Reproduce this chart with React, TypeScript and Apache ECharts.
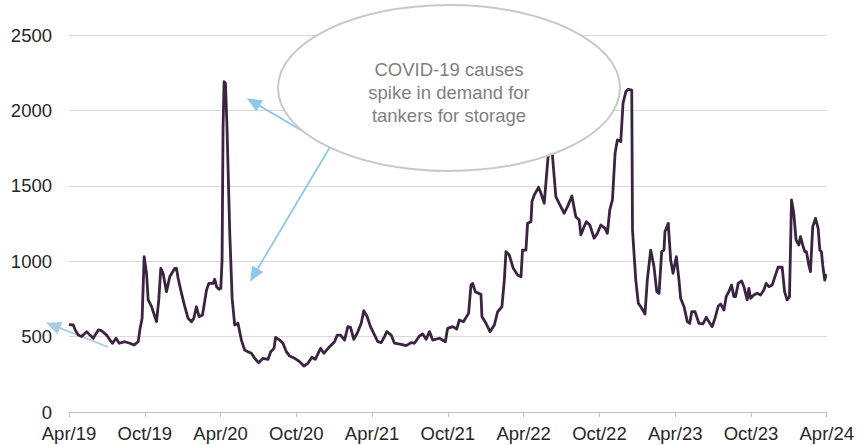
import React, { useEffect, useRef } from "react";
import * as echarts from "echarts";

// months elapsed since April 2019 (x position of each observation)
const monthsSinceApr2019 = [
  0, 0.34, 0.47, 0.74, 1.0, 1.4, 1.66, 1.92, 2.32, 2.58,
  2.98, 3.24, 3.45, 3.72, 3.98, 4.43, 4.82, 5.14, 5.48, 5.61,
  5.79, 5.95, 6.14, 6.27, 6.54, 6.93, 7.11, 7.27, 7.45, 7.72,
  7.98, 8.38, 8.51, 8.64, 8.91, 9.17, 9.43, 9.7, 9.88, 10.09,
  10.3, 10.57, 10.89, 11.07, 11.41, 11.54, 11.68, 11.88, 12.02, 12.12,
  12.2, 12.28, 12.39, 12.51, 12.73, 12.92, 13.12, 13.38, 13.65, 13.91,
  14.17, 14.44, 14.7, 15.02, 15.36, 15.76, 15.97, 16.23, 16.36, 16.68,
  16.94, 17.21, 17.47, 17.87, 18.26, 18.6, 18.92, 19.23, 19.5, 19.92,
  20.18, 20.63, 21.03, 21.24, 21.5, 21.82, 22.08, 22.29, 22.55, 22.82,
  23.14, 23.34, 23.61, 23.87, 24.13, 24.45, 24.72, 24.98, 25.16, 25.51,
  25.77, 26.3, 26.7, 27.09, 27.35, 27.75, 28.01, 28.28, 28.54, 28.8,
  29.33, 29.8, 29.98, 30.38, 30.7, 30.91, 31.23, 31.64, 31.83, 31.96,
  32.17, 32.62, 32.7, 33.02, 33.34, 33.68, 33.94, 34.28, 34.47, 34.6,
  34.86, 35.18, 35.52, 35.79, 35.91, 36.18, 36.31, 36.58, 36.66, 36.84,
  37.18, 37.37, 37.63, 37.89, 38.1, 38.28, 38.55, 38.81, 39.21, 39.47,
  39.82, 40.13, 40.4, 40.53, 40.79, 40.97, 41.24, 41.58, 41.84, 42.11,
  42.45, 42.63, 42.82, 43.03, 43.24, 43.42, 43.69, 43.87, 44.09, 44.27,
  44.56, 44.62, 44.74, 44.88, 45.08, 45.35, 45.61, 45.79, 46.06, 46.32,
  46.54, 46.72, 46.93, 47.11, 47.19, 47.45, 47.64, 47.83, 48.09, 48.3,
  48.43, 48.7, 48.96, 49.15, 49.31, 49.57, 49.88, 50.2, 50.46, 50.67,
  50.93, 51.15, 51.41, 51.6, 51.86, 52.04, 52.25, 52.46, 52.65, 52.78,
  52.99, 53.26, 53.44, 53.7, 53.83, 53.97, 54.23, 54.49, 54.76, 55.02,
  55.2, 55.42, 55.68, 55.94, 56.15, 56.47, 56.66, 56.86, 57.05, 57.21,
  57.39, 57.57, 57.79, 57.92, 58.1, 58.26, 58.39, 58.58, 58.71, 58.89,
  59.11, 59.32, 59.45, 59.58, 59.68, 59.84, 59.94, 60,
];

// tanker rate index values
const rates = [
  580, 577, 548, 510, 500, 533, 510, 489, 544, 539,
  510, 477, 456, 489, 456, 466, 456, 444, 466, 544,
  621, 1030, 920, 743, 698, 599, 743, 953, 920, 798,
  897, 953, 953, 887, 787, 698, 621, 599, 621, 698,
  632, 643, 809, 853, 853, 880, 831, 814, 820, 1008,
  1892, 2190, 2180, 1892, 1185, 750, 577, 588, 477, 411,
  400, 389, 356, 327, 356, 349, 400, 422, 495, 477,
  456, 400, 371, 356, 334, 305, 323, 363, 349, 422,
  389, 433, 466, 510, 510, 477, 566, 562, 482, 522,
  588, 672, 632, 566, 522, 466, 460, 499, 533, 510,
  456, 449, 440, 460, 456, 504, 517, 482, 533, 477,
  489, 466, 555, 566, 550, 610, 599, 654, 842, 853,
  798, 780, 632, 588, 533, 577, 665, 698, 875, 1063,
  1041, 953, 908, 897, 1074, 1074, 1251, 1262, 1395, 1439,
  1490, 1450, 1384, 1649, 1850, 1700, 1428, 1384, 1318, 1362,
  1432, 1295, 1273, 1174, 1229, 1262, 1240, 1152, 1185, 1240,
  1218, 1185, 1340, 1406, 1716, 1804, 1793, 2047, 2124, 2140,
  2135, 1207, 1052, 875, 721, 688, 650, 875, 1074, 964,
  798, 787, 1063, 1074, 1196, 1251, 1008, 920, 1030, 875,
  754, 698, 599, 588, 665, 665, 588, 584, 628, 599,
  566, 621, 703, 716, 676, 765, 798, 842, 765, 765,
  853, 869, 831, 743, 820, 754, 776, 787, 776, 809,
  853, 831, 842, 908, 960, 960, 798, 743, 765, 1406,
  1318, 1141, 1107, 1163, 1107, 1063, 1063, 975, 930, 1229,
  1284, 1218, 1074, 1063, 975, 875, 908, 908,
];

const xTickLabels = [
  "Apr/19", "Oct/19", "Apr/20", "Oct/20", "Apr/21", "Oct/21",
  "Apr/22", "Oct/22", "Apr/23", "Oct/23", "Apr/24",
];

const annotationText = "COVID-19 causes\nspike in demand for\ntankers for storage";

const FONT = '"Liberation Sans", Arial, sans-serif';

function arrow(x1: number, y1: number, x2: number, y2: number, color: string, z: number) {
  const dx = x2 - x1;
  const dy = y2 - y1;
  const len = Math.hypot(dx, dy);
  const ux = dx / len;
  const uy = dy / len;
  const headLen = 15;
  const headW = 6.5;
  const bx = x2 - ux * headLen;
  const by = y2 - uy * headLen;
  const px = -uy;
  const py = ux;
  return [
    {
      type: "line",
      z,
      shape: { x1, y1, x2: bx + ux * 2, y2: by + uy * 2 },
      style: { stroke: color, lineWidth: 1.8 },
    },
    {
      type: "polygon",
      z,
      shape: {
        points: [
          [x2, y2],
          [bx + px * headW, by + py * headW],
          [bx - px * headW, by - py * headW],
        ],
      },
      style: { fill: color },
    },
  ];
}

export default function App() {
  const ref = useRef<HTMLDivElement>(null);

  useEffect(() => {
    document.body.style.margin = "0";
    const chart = echarts.init(ref.current as HTMLDivElement, null, { renderer: "svg" });
    const n = Math.min(monthsSinceApr2019.length, rates.length);
    const data = [];
    for (let i = 0; i < n; i++) data.push([monthsSinceApr2019[i], rates[i]]);

    chart.setOption({
      animation: false,
      grid: { left: 69, right: 29, top: 35, bottom: 33, containLabel: false },
      xAxis: {
        type: "value",
        min: 0,
        max: 60,
        interval: 6,
        axisLine: { show: true, lineStyle: { color: "#bfbfbf", width: 1 } },
        axisTick: { show: true, length: 5, lineStyle: { color: "#bfbfbf" } },
        splitLine: { show: false },
        axisLabel: {
          show: true,
          margin: 12,
          fontSize: 18.5,
          fontFamily: FONT,
          color: "#262626",
          showMinLabel: true,
          showMaxLabel: true,
          formatter: (v: number) => xTickLabels[Math.round(v / 6)] ?? "",
        },
      },
      yAxis: {
        type: "value",
        min: 0,
        max: 2500,
        interval: 500,
        axisLine: { show: false },
        axisTick: { show: false },
        splitLine: { show: true, lineStyle: { color: "#d9d9d9", width: 1 } },
        axisLabel: {
          margin: 17,
          fontSize: 18.5,
          fontFamily: FONT,
          color: "#262626",
          formatter: (v: number) => String(v),
        },
      },
      series: [
        {
          type: "line",
          data,
          showSymbol: false,
          symbol: "none",
          z: 3,
          lineStyle: { color: "#3b2341", width: 2.8, join: "round" },
        },
      ],
      graphic: {
        elements: [
          ...arrow(108, 347, 46, 322.7, "#a8cce1", 1),
          ...arrow(330, 147, 246.7, 98.3, "#8ec8ea", 9),
          ...arrow(330, 147, 250, 281.7, "#8ec8ea", 9),
          {
            type: "ellipse",
            z: 10,
            shape: { cx: 449, cy: 88, rx: 171, ry: 83 },
            style: { fill: "#ffffff", stroke: "#c9c9c9", lineWidth: 2 },
          },
          {
            type: "text",
            z: 11,
            x: 449,
            y: 92,
            style: {
              text: annotationText,
              fill: "#7f7f7f",
              font: `18.5px ${FONT}`,
              fontSize: 18.5,
              fontFamily: FONT,
              align: "center",
              verticalAlign: "middle",
              textAlign: "center",
              textVerticalAlign: "middle",
              lineHeight: 23,
            },
          },
        ],
      },
    });

    return () => chart.dispose();
  }, []);

  return <div ref={ref} style={{ width: 857, height: 445 }} />;
}
